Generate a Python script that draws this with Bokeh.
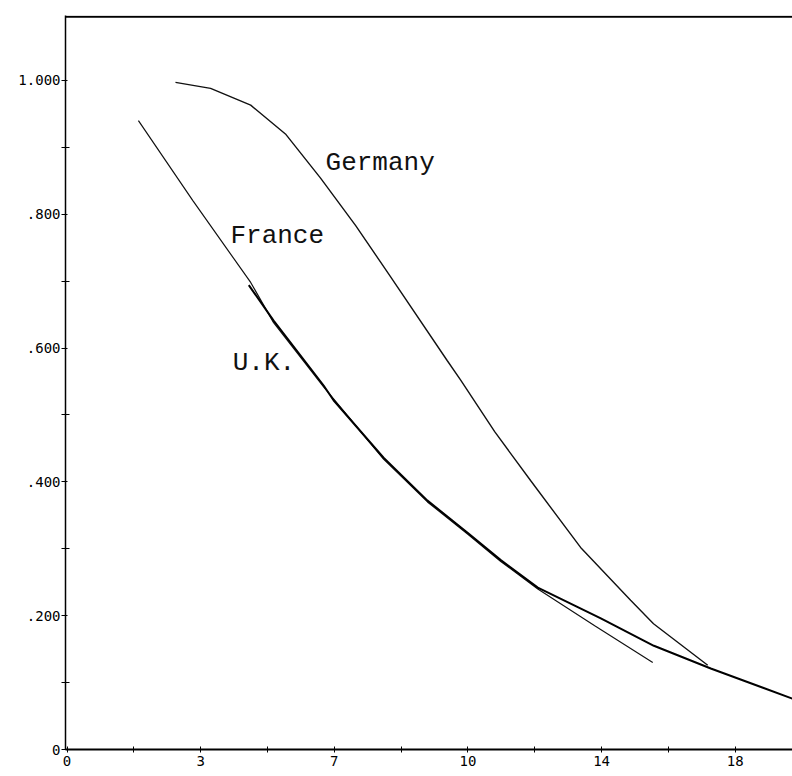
from bokeh.plotting import figure
from bokeh.models import Range1d, FixedTicker, Span, ColumnDataSource
from bokeh.core.properties import value
from bokeh.embed import file_html
from bokeh.resources import INLINE

# ---- data ----
germany_x = [2.84, 3.76, 4.81, 5.72, 6.64, 7.56, 8.48, 9.96, 10.31, 11.2, 12.14, 13.45, 14.76, 15.36, 16.78]
germany_y = [0.997, 0.988, 0.963, 0.920, 0.854, 0.783, 0.706, 0.581, 0.552, 0.475, 0.402, 0.302, 0.223, 0.188, 0.126]

france_x = [1.87, 3.30, 4.81, 5.41, 6.72, 8.29, 9.44, 10.49, 11.36, 12.33, 13.82, 15.34]
france_y = [0.940, 0.820, 0.698, 0.638, 0.542, 0.434, 0.370, 0.322, 0.281, 0.240, 0.185, 0.130]

uk_x = [4.76, 5.41, 6.72, 6.98, 8.29, 9.44, 10.49, 11.36, 12.33, 13.98, 15.37, 16.86, 19.0]
uk_y = [0.694, 0.641, 0.544, 0.522, 0.436, 0.372, 0.324, 0.283, 0.242, 0.196, 0.155, 0.121, 0.076]

label_x = [6.77, 4.28, 4.34]
label_y = [0.876, 0.768, 0.578]
label_text = ["Germany", "France", "U.K."]

x_ticks = [0, 3.5, 7, 10.5, 14, 17.5]
x_tick_labels = ["0", "3", "7", "10", "14", "18"]
x_minor_ticks = [1.75, 5.25, 8.75, 12.25, 15.75]
y_ticks = [0, 0.2, 0.4, 0.6, 0.8, 1.0]
y_tick_labels = ["0", ".200", ".400", ".600", ".800", "1.000"]
y_minor_ticks = [0.1, 0.3, 0.5, 0.7, 0.9]

# ---- figure ----
p = figure(width=792, height=776, output_backend="svg", toolbar_location=None,
           x_range=Range1d(-0.04, 19.0), y_range=Range1d(0, 1.097),
           min_border_left=65, min_border_right=0, min_border_top=15, min_border_bottom=27)
p.outline_line_color = None
p.background_fill_color = "white"
p.border_fill_color = "white"
p.xgrid.visible = False
p.ygrid.visible = False

p.line(germany_x, germany_y, line_color="#111111", line_width=1.4)
p.line(france_x, france_y, line_color="#111111", line_width=1.2)
p.line(uk_x, uk_y, line_color="#000000", line_width=2.0)

src = ColumnDataSource(dict(x=label_x, y=label_y, t=label_text))
p.text(x="x", y="y", text="t", source=src, text_font=value("Liberation Mono"),
       text_font_size="26px", text_baseline="middle", text_align="left", text_color="#111111")

# top frame line
p.add_layout(Span(location=1.095, dimension="width", line_color="#000000", line_width=2))

# axes
xa = p.xaxis[0]
xa.ticker = FixedTicker(ticks=x_ticks, minor_ticks=x_minor_ticks)
xa.major_label_overrides = {t: l for t, l in zip(x_ticks, x_tick_labels)}
xa.axis_line_width = 2
xa.major_tick_in = 3
xa.major_tick_out = 3
xa.minor_tick_in = 3
xa.minor_tick_out = 3
xa.major_label_standoff = 3
xa.major_label_text_font = "DejaVu Sans Mono"
xa.major_label_text_font_size = "14px"
xa.major_label_text_color = "#000000"
xa.major_label_text_align = "left"

ya = p.yaxis[0]
ya.ticker = FixedTicker(ticks=y_ticks, minor_ticks=y_minor_ticks)
ya.major_label_overrides = {t: l for t, l in zip(y_ticks, y_tick_labels)}
ya.axis_line_width = 1.5
ya.major_tick_in = 2
ya.major_tick_out = 4
ya.minor_tick_in = 4
ya.minor_tick_out = 4
ya.major_label_standoff = 1
ya.major_label_text_font = "DejaVu Sans Mono"
ya.major_label_text_font_size = "14px"
ya.major_label_text_color = "#000000"

open("out.html", "w").write(file_html(p, INLINE))
